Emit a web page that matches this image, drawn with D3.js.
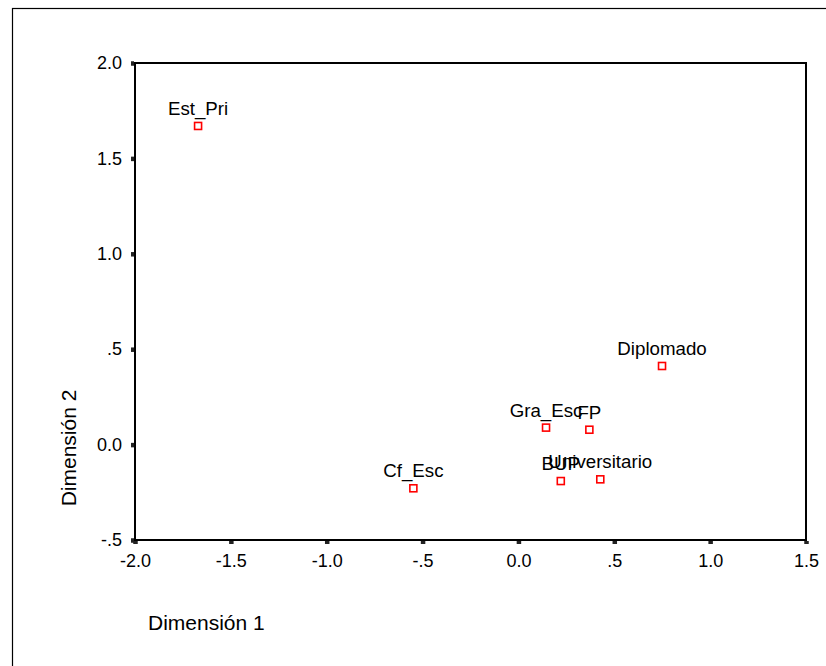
<!DOCTYPE html>
<html>
<head>
<meta charset="utf-8">
<script src="https://cdn.jsdelivr.net/npm/d3@7"></script>
<style>
  html, body { margin: 0; padding: 0; background: #fff; }
  svg { display: block; font-family: "Liberation Sans", Arial, sans-serif; }
</style>
</head>
<body>
<svg id="chart" width="826" height="666"></svg>
<script>
// ---- data ----
const categories = ["Est_Pri", "Cf_Esc", "Gra_Esc", "FP", "BUP", "Universitario", "Diplomado"];
const dim1 = [-1.671, -0.548, 0.144, 0.370, 0.221, 0.427, 0.749];
const dim2 = [1.670, -0.229, 0.089, 0.078, -0.191, -0.182, 0.412];
const xTicks = [-2.0, -1.5, -1.0, -0.5, 0.0, 0.5, 1.0, 1.5];
const xTickLabels = ["-2.0", "-1.5", "-1.0", "-.5", "0.0", ".5", "1.0", "1.5"];
const yTicks = [-0.5, 0.0, 0.5, 1.0, 1.5, 2.0];
const yTickLabels = ["-.5", "0.0", ".5", "1.0", "1.5", "2.0"];
const xTitle = "Dimensión 1";
const yTitle = "Dimensión 2";

// ---- layout ----
const svg = d3.select("#chart");
const L = 135, R = 806, T = 63, B = 540;

const x = d3.scaleLinear().domain([-2, 1.5]).range([L, R]);
const y = d3.scaleLinear().domain([-0.5, 2]).range([B, T]);

// outer border
svg.append("rect")
  .attr("x", 12.5).attr("y", 8.5)
  .attr("width", 900).attr("height", 900)
  .attr("fill", "none").attr("stroke", "#000").attr("stroke-width", 1.2);

// plot frame
svg.append("rect")
  .attr("x", L).attr("y", T)
  .attr("width", R - L).attr("height", B - T)
  .attr("fill", "none").attr("stroke", "#000").attr("stroke-width", 2);

// x axis
const xAxis = d3.axisBottom(x)
  .tickValues(xTicks)
  .tickFormat((d, i) => xTickLabels[i])
  .tickSize(3).tickPadding(10);
const gx = svg.append("g").attr("transform", `translate(0,${B + 1})`).call(xAxis);
gx.select(".domain").remove();
gx.selectAll(".tick line").attr("stroke", "#222").attr("stroke-width", 4.5);
gx.selectAll(".tick text").attr("font-size", 18).attr("fill", "#000")
  .attr("font-family", "Liberation Sans, Arial, sans-serif");

// y axis
const yAxis = d3.axisLeft(y)
  .tickValues(yTicks)
  .tickFormat((d, i) => yTickLabels[i])
  .tickSize(3).tickPadding(9);
const gy = svg.append("g").attr("transform", `translate(${L - 1},0)`).call(yAxis);
gy.select(".domain").remove();
gy.selectAll(".tick line").attr("stroke", "#222").attr("stroke-width", 4.5);
gy.selectAll(".tick text").attr("font-size", 18).attr("fill", "#000")
  .attr("font-family", "Liberation Sans, Arial, sans-serif");

// axis titles
svg.append("text")
  .attr("x", 148).attr("y", 630)
  .attr("font-size", 21).attr("fill", "#000")
  .text(xTitle);

svg.append("text")
  .attr("transform", `translate(76,448) rotate(-90)`)
  .attr("text-anchor", "middle")
  .attr("font-size", 21).attr("fill", "#000")
  .text(yTitle);

// points
const pts = categories.map((c, i) => ({ c, x: dim1[i], y: dim2[i] }));
const drawOrder = ["Est_Pri", "Cf_Esc", "Diplomado", "Gra_Esc", "FP", "BUP", "Universitario"];
drawOrder.forEach(name => {
  const p = pts.find(d => d.c === name);
  const g = svg.append("g");
  g.append("rect")
    .attr("x", x(p.x) - 3.5).attr("y", y(p.y) - 3.5)
    .attr("width", 7).attr("height", 7)
    .attr("fill", "#fff").attr("stroke", "#f00").attr("stroke-width", 1.6);
  g.append("text")
    .attr("x", x(p.x)).attr("y", y(p.y) - 11)
    .attr("text-anchor", "middle")
    .attr("font-size", 18.7).attr("fill", "#000")
    .text(p.c);
});
</script>
</body>
</html>
